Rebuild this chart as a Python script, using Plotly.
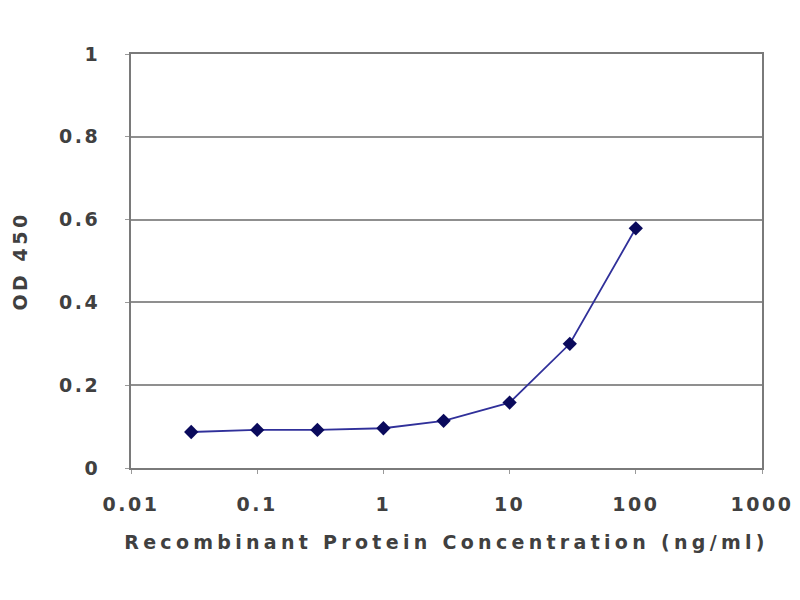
import plotly.graph_objects as go

# concentration (ng/ml) vs OD 450
conc = [0.03, 0.1, 0.3, 1, 3, 10, 30, 100]
od450 = [0.087, 0.092, 0.092, 0.096, 0.114, 0.158, 0.30, 0.579]

x_ticks = [0.01, 0.1, 1, 10, 100, 1000]
x_tick_text = ['0.01', '0.1', '1', '10', '100', '1000']
y_ticks = [0, 0.2, 0.4, 0.6, 0.8, 1]
y_tick_text = ['0', '0.2', '0.4', '0.6', '0.8', '1']


def wide(s, sp):
    # the reference text is stretched sideways, so spread the letters
    return '<span style="letter-spacing:%spx">%s</span>' % (sp, s)


fig = go.Figure()
fig.add_trace(go.Scatter(
    x=conc,
    y=od450,
    mode='lines+markers',
    line=dict(color='#30309a', width=1.8),
    marker=dict(symbol='diamond', size=11, color='#0a0a5c'),
    showlegend=False,
))

axis_font = dict(family='DejaVu Sans', size=19, color='#404040', weight='bold')

fig.update_layout(
    width=800, height=600,
    paper_bgcolor='white', plot_bgcolor='white',
    margin=dict(l=119, r=46, t=46, b=140),
    xaxis=dict(
        type='log', range=[-2, 3],
        tickvals=x_ticks, ticktext=[wide(t, 2.5) for t in x_tick_text],
        showgrid=False, zeroline=False,
        showline=True, linecolor='#7a7a7a', linewidth=2, mirror=True,
        ticks='outside', ticklen=4, tickcolor='#9a9a9a', tickwidth=1,
        ticklabelstandoff=14,
        tickfont=axis_font,
        title=dict(text=wide('Recombinant Protein Concentration (ng/ml)', 4.3),
                   font=axis_font,
                   standoff=22),
    ),
    yaxis=dict(
        range=[0, 1],
        tickvals=y_ticks, ticktext=[wide(t, 2.5) for t in y_tick_text],
        showgrid=True, gridcolor='#8f8f8f', gridwidth=2,
        zeroline=False,
        showline=True, linecolor='#7a7a7a', linewidth=2, mirror=True,
        ticks='outside', ticklen=4, tickcolor='#9a9a9a', tickwidth=1,
        ticklabelstandoff=21,
        tickfont=axis_font,
        title=dict(text=wide('OD 450', 3.5),
                   font=axis_font,
                   standoff=26),
    ),
)

fig.write_html("out.html")
